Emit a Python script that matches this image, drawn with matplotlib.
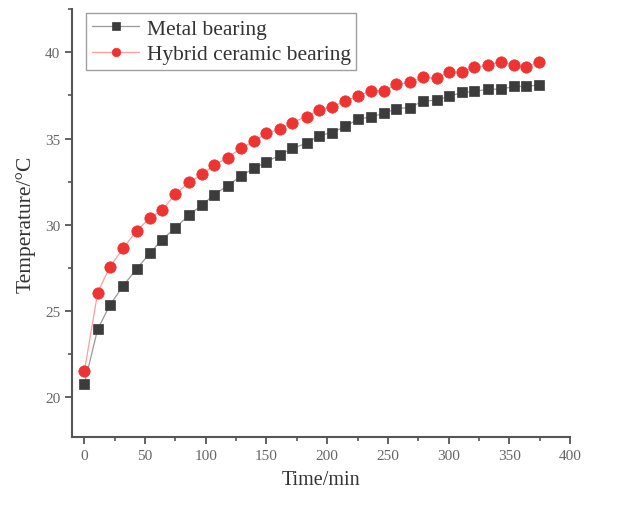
import matplotlib
matplotlib.use("Agg")
import matplotlib.pyplot as plt
from matplotlib.ticker import MultipleLocator

plt.rcParams["font.family"] = ["Liberation Serif", "DejaVu Serif"]

# time (points are spaced a bit wider than 10 min on the axis)
time_min = [0, 11, 21, 32, 43, 54, 64, 75, 86, 97, 107, 118, 129, 140, 150, 161,
            171, 183, 193, 204, 215, 225, 236, 247, 257, 268, 279, 290, 300, 311,
            321, 332, 343, 354, 364, 374]

metal = [20.77, 23.96, 25.35, 26.47, 27.45, 28.36, 29.15, 29.83, 30.56, 31.15,
         31.76, 32.26, 32.84, 33.29, 33.65, 34.04, 34.43, 34.73, 35.16, 35.35,
         35.70, 36.12, 36.26, 36.47, 36.74, 36.80, 37.17, 37.23, 37.44, 37.67,
         37.73, 37.86, 37.86, 38.02, 38.02, 38.11]

hybrid = [21.51, 26.08, 27.57, 28.65, 29.65, 30.40, 30.86, 31.78, 32.46, 32.94,
          33.46, 33.90, 34.44, 34.87, 35.31, 35.54, 35.93, 36.27, 36.65, 36.84,
          37.19, 37.44, 37.77, 37.77, 38.15, 38.25, 38.54, 38.50, 38.86, 38.86,
          39.12, 39.25, 39.45, 39.25, 39.12, 39.45]

labels = ["Metal bearing", "Hybrid ceramic bearing"]

fig = plt.figure(figsize=(6.17, 5.06), dpi=100)
ax = fig.add_axes([0.117, 0.134, 0.807, 0.846])

ax.plot(time_min, metal, color="#9a9a9a", lw=0.9, marker="s", ms=6.8, mew=0.5,
        mfc="#3c3c3c", mec="#3c3c3c", label=labels[0])
ax.plot(time_min, hybrid, color="#ff9c9c", lw=0.9, marker="o", ms=8.2, mew=0.5,
        mfc="#ee3333", mec="#ee3333", label=labels[1])

ax.set_xlim(-10, 400)
ax.set_ylim(17.7, 42.5)
ax.xaxis.set_major_locator(MultipleLocator(50))
ax.xaxis.set_minor_locator(MultipleLocator(25))
ax.yaxis.set_major_locator(MultipleLocator(5))
ax.yaxis.set_minor_locator(MultipleLocator(2.5))

for side in ["top", "right"]:
    ax.spines[side].set_visible(False)
for side in ["left", "bottom"]:
    ax.spines[side].set_color("#555555")
    ax.spines[side].set_linewidth(1.5)

ax.tick_params(which="major", direction="out", length=5, width=1.3,
               color="#555555", labelsize=11, labelcolor="#666666")
ax.tick_params(which="minor", direction="out", length=3, width=1.2,
               color="#555555")

ax.set_xlabel("Time/min", fontsize=14.5, color="#333333", labelpad=6)
ax.set_ylabel("Temperature/\u00b0C", fontsize=15.5, color="#333333", labelpad=7)

leg = ax.legend(loc="upper left", bbox_to_anchor=(0.02, 1.0), fontsize=15.5,
                frameon=True, fancybox=False, edgecolor="#888888",
                handlelength=2.2, handletextpad=0.35, borderpad=0.25,
                labelspacing=0.25, borderaxespad=0.2, markerscale=0.75)
leg.get_frame().set_linewidth(1.0)
for t in leg.get_texts():
    t.set_color("#333333")

fig.savefig("out.png", dpi=100)
